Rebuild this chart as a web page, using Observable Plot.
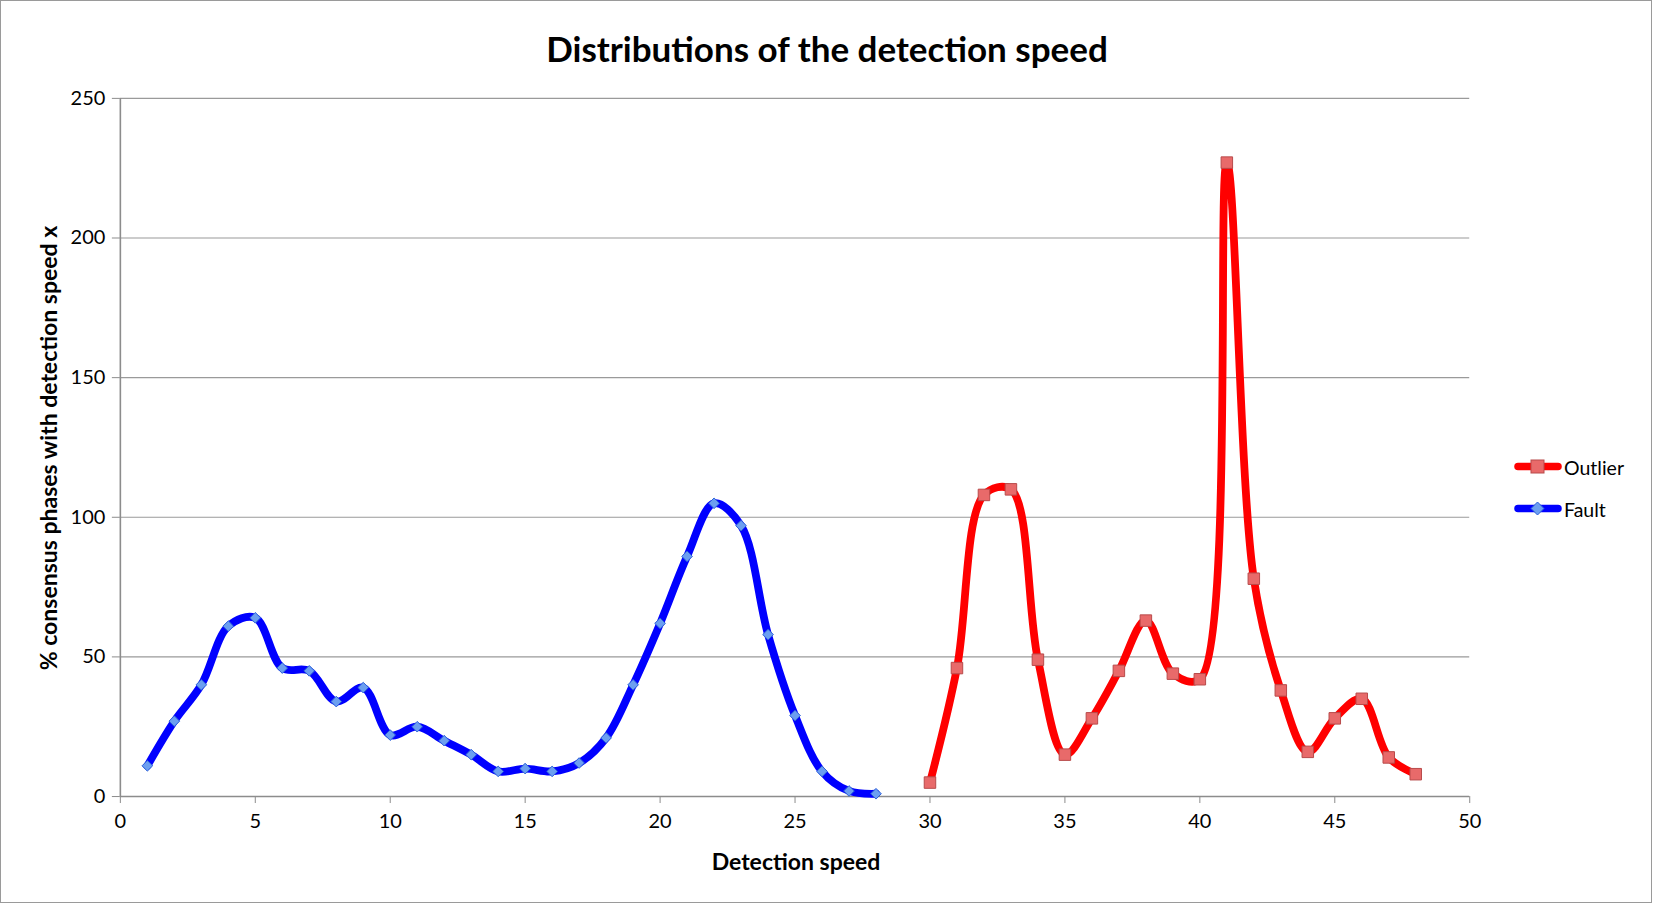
<!DOCTYPE html>
<html>
<head>
<meta charset="utf-8">
<script src="https://cdn.jsdelivr.net/npm/d3@7"></script>
<script src="https://cdn.jsdelivr.net/npm/@observablehq/plot@0.6"></script>
<style>
  body { margin: 0; background: #fff; font-family: Lato, "Open Sans", sans-serif; }
  #chart { position: absolute; left: 0; top: 0; width: 1652px; height: 903px; border: 1px solid #9a9a9a; box-sizing: border-box; background: #fff; }
  #plot { position: absolute; left: -1px; top: -1px; }
  .title { position: absolute; left: 0; width: 1652px; top: 26px; line-height: 42px; text-align: center; font-weight: bold; font-size: 35px; color: #000; }
  .xlabel { position: absolute; left: 119px; width: 1352px; top: 846px; line-height: 28px; text-align: center; font-weight: bold; font-size: 23px; }
  .ylabel { position: absolute; left: 47px; top: 447px; transform: translate(-50%, -50%) rotate(-90deg); white-space: nowrap; font-weight: bold; font-size: 23px; line-height: 28px; }
  .legend { position: absolute; left: 1512px; top: 453px; font-size: 19.5px; }
  .legend .item { display: flex; align-items: center; height: 26px; margin-bottom: 16px; }
  .legend svg { margin-right: 1px; }
</style>
</head>
<body>
<div id="chart">
  <div id="plot"></div>
  <div class="title">Distributions of the detection speed</div>
  <div class="xlabel">Detection speed</div>
  <div class="ylabel">% consensus phases with detection speed x</div>
  <div class="legend" id="legend"></div>
</div>
<script>
// Data
const faultX = [1,2,3,4,5,6,7,8,9,10,11,12,13,14,15,16,17,18,19,20,21,22,23,24,25,26,27,28];
const faultY = [11,27,40,61,64,46,45,34,39,22,25,20,15,9,10,9,12,21,40,62,86,105,97,58,29,9,2,1];
const outlierX = [30,31,32,33,34,35,36,37,38,39,40,41,42,43,44,45,46,47,48];
const outlierY = [5,46,108,110,49,15,28,45,63,44,42,227,78,38,16,28,35,14,8];
const xTicks = [0,5,10,15,20,25,30,35,40,45,50];
const yTicks = [0,50,100,150,200,250];
const seriesNames = ["Outlier", "Fault"];

const fault = faultX.map((x, i) => ({x, y: faultY[i]}));
const outlier = outlierX.map((x, i) => ({x, y: outlierY[i]}));

const axisGray = "#8c8c8c";

const plot = Plot.plot({
  width: 1653,
  height: 903,
  marginLeft: 120,
  marginRight: 182,
  marginTop: 98,
  marginBottom: 106,
  style: {fontFamily: "Lato, 'Open Sans', sans-serif", background: "transparent"},
  x: {domain: [0, 50]},
  y: {domain: [0, 250]},
  marks: [
    Plot.gridY(yTicks.filter(d => d > 0), {stroke: "#9a9a9a", strokeOpacity: 1, strokeWidth: 1.2}),
    Plot.ruleX([0], {stroke: axisGray, strokeWidth: 1.6}),
    Plot.ruleY([0], {stroke: axisGray, strokeWidth: 1.6}),
    Plot.axisX({ticks: xTicks, tickSize: 7, tickPadding: 10, fontSize: 20, label: null, stroke: axisGray, fill: "#000"}),
    Plot.axisY({ticks: yTicks, tickSize: 8, tickPadding: 7, fontSize: 20, label: null, stroke: axisGray, fill: "#000"}),
    Plot.line(fault, {x: "x", y: "y", curve: "catmull-rom", stroke: "#0000ff", strokeWidth: 7.8, strokeLinecap: "round"}),
    Plot.line(outlier, {x: "x", y: "y", curve: "catmull-rom", stroke: "#ff0000", strokeWidth: 7.8, strokeLinecap: "round"}),
    Plot.dot(fault, {x: "x", y: "y", symbol: "diamond2", r: 4.8, fill: "#6c9ff0", stroke: "#2b5fd9", strokeWidth: 1}),
    Plot.dot(outlier, {x: "x", y: "y", symbol: "square", r: 6.5, fill: "#e86a6a", stroke: "#b84a4a", strokeWidth: 1})
  ]
});
document.getElementById("plot").appendChild(plot);

// Legend
const legend = document.getElementById("legend");
const legendStyles = {
  Outlier: {color: "#ff0000", marker: `<rect x="18" y="6" width="13" height="13" fill="#e86a6a" stroke="#b84a4a"/>`},
  Fault: {color: "#0000ff", marker: `<path d="M24.5,6 L31,12.5 L24.5,19 L18,12.5 Z" fill="#6c9ff0" stroke="#2b5fd9"/>`}
};
seriesNames.forEach(name => {
  const s = legendStyles[name];
  const item = document.createElement("div");
  item.className = "item";
  item.innerHTML = `<svg width="50" height="26"><line x1="5" y1="12.5" x2="45" y2="12.5" stroke="${s.color}" stroke-width="7.5" stroke-linecap="round"/>${s.marker}</svg><span>${name}</span>`;
  legend.appendChild(item);
});
</script>
</body>
</html>
